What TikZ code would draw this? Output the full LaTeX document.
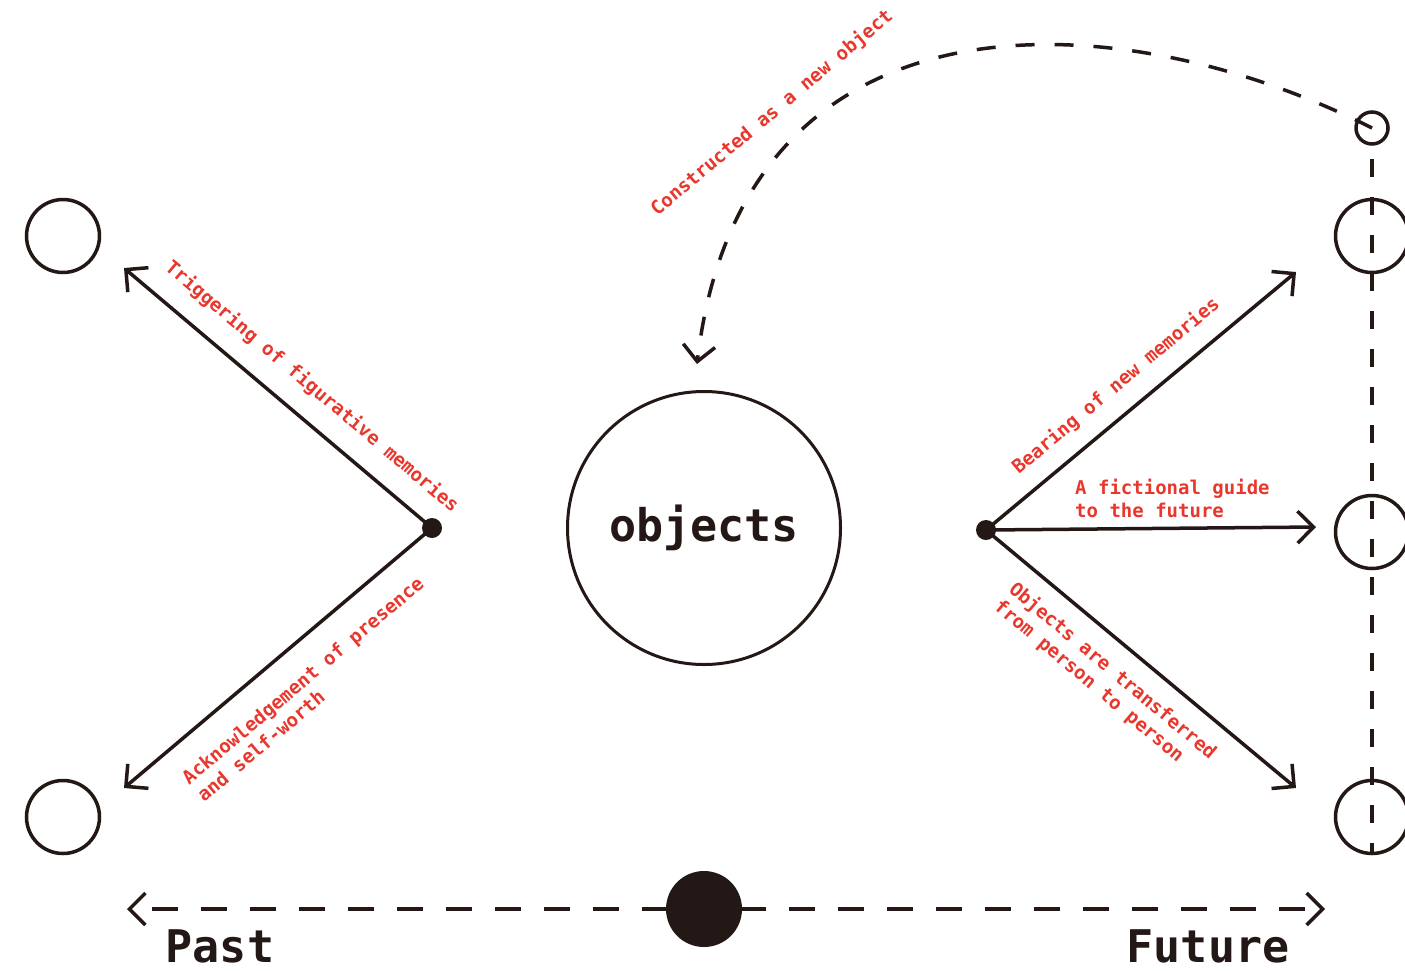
\documentclass[tikz,border=0pt]{standalone}
\usepackage{fontspec}
\setmonofont{DejaVu Sans Mono}
\usetikzlibrary{arrows.meta}
\definecolor{ink}{RGB}{35,24,21}
\definecolor{lblred}{RGB}{232,56,45}
\begin{document}
\begin{tikzpicture}[x=1pt,y=-1pt,
  ring/.style={circle, draw=ink, line width=3.5pt, minimum size=73pt, inner sep=0pt},
  smallring/.style={circle, draw=ink, line width=3.5pt, minimum size=32pt, inner sep=0pt},
  hub/.style={circle, fill=ink, minimum size=20pt, inner sep=0pt},
  conn/.style={draw=ink, line width=3.5pt, -{Straight Barb[length=16pt,width=32pt]}},
  dashconn/.style={draw=ink, line width=3.5pt},
  lbl/.style={text=lblred, font=\ttfamily\bfseries\fontsize{19}{23}\selectfont, align=left, inner sep=0pt},
  big/.style={text=ink, font=\ttfamily\bfseries\fontsize{45}{54}\selectfont, inner sep=0pt}
]
\useasboundingbox (0,0) rectangle (1405,970);

% circles
\node[ring] (pastA) at (63,236) {};
\node[ring] (pastB) at (63,817) {};
\node[ring] (futA) at (1372,236) {};
\node[ring] (futB) at (1372,532) {};
\node[ring] (futC) at (1372,817) {};
\node[smallring] (seed) at (1372,128) {};
\node[circle, draw=ink, line width=3pt, minimum size=273pt, big] (obj) at (704,528) {objects};
\node[hub] (lhub) at (432,528) {};
\node[hub] (rhub) at (986,530) {};

% free ends
\coordinate (tUL) at (124,268);
\coordinate (tLL) at (124,788);
\coordinate (tUR) at (1296,272);
\coordinate (tMR) at (1316,527);
\coordinate (tLR) at (1296,788);
\coordinate (tArc) at (697,364);
\coordinate (tPast) at (127,909);
\coordinate (tFut) at (1325,909);

% connectors
\draw[conn] (lhub.center) -- (tUL);
\draw[conn] (lhub.center) -- (tLL);
\draw[conn] (rhub.center) -- (tUR);
\draw[conn] (rhub.center) -- (tMR);
\draw[conn] (rhub.center) -- (tLR);

\draw[dashconn, dash pattern=on 18pt off 20pt, dash phase=25pt] (seed.south) -- (futC.south);
\draw[dashconn, dash pattern=on 19pt off 20pt, -{Straight Barb[length=16pt,width=32pt]}]
  (seed.center) .. controls (1115,-2) and (742,-18) .. (tArc);
\draw[dashconn, dash pattern=on 26pt off 23pt, dash phase=28pt,
  {Straight Barb[length=16pt,width=32pt]}-{Straight Barb[length=16pt,width=32pt]}] (tPast) -- (tFut);
\node[hub, minimum size=76pt] (now) at (704,909) {};

% labels
\node[lbl, rotate=-40.2] (lTrig) at (312,387) {Triggering of figurative memories};
\node[lbl, rotate=40.2] (lAck) at (310,689) {Acknowledgement of presence\\and self-worth};
\node[lbl, rotate=40] (lCons) at (772,113) {Constructed as a new object};
\node[lbl, rotate=39.9] (lBear) at (1116,386) {Bearing of new memories};
\node[lbl, anchor=west] (lGuide) at (1075,498) {A fictional guide\\to the future};
\node[lbl, rotate=-39.9] (lTrans) at (1105,680) {Objects are transferred\\from person to person};
\node[big, anchor=base] (lPast) at (220,962) {Past};
\node[big, anchor=base] (lFut) at (1208,962) {Future};
\end{tikzpicture}
\end{document}
